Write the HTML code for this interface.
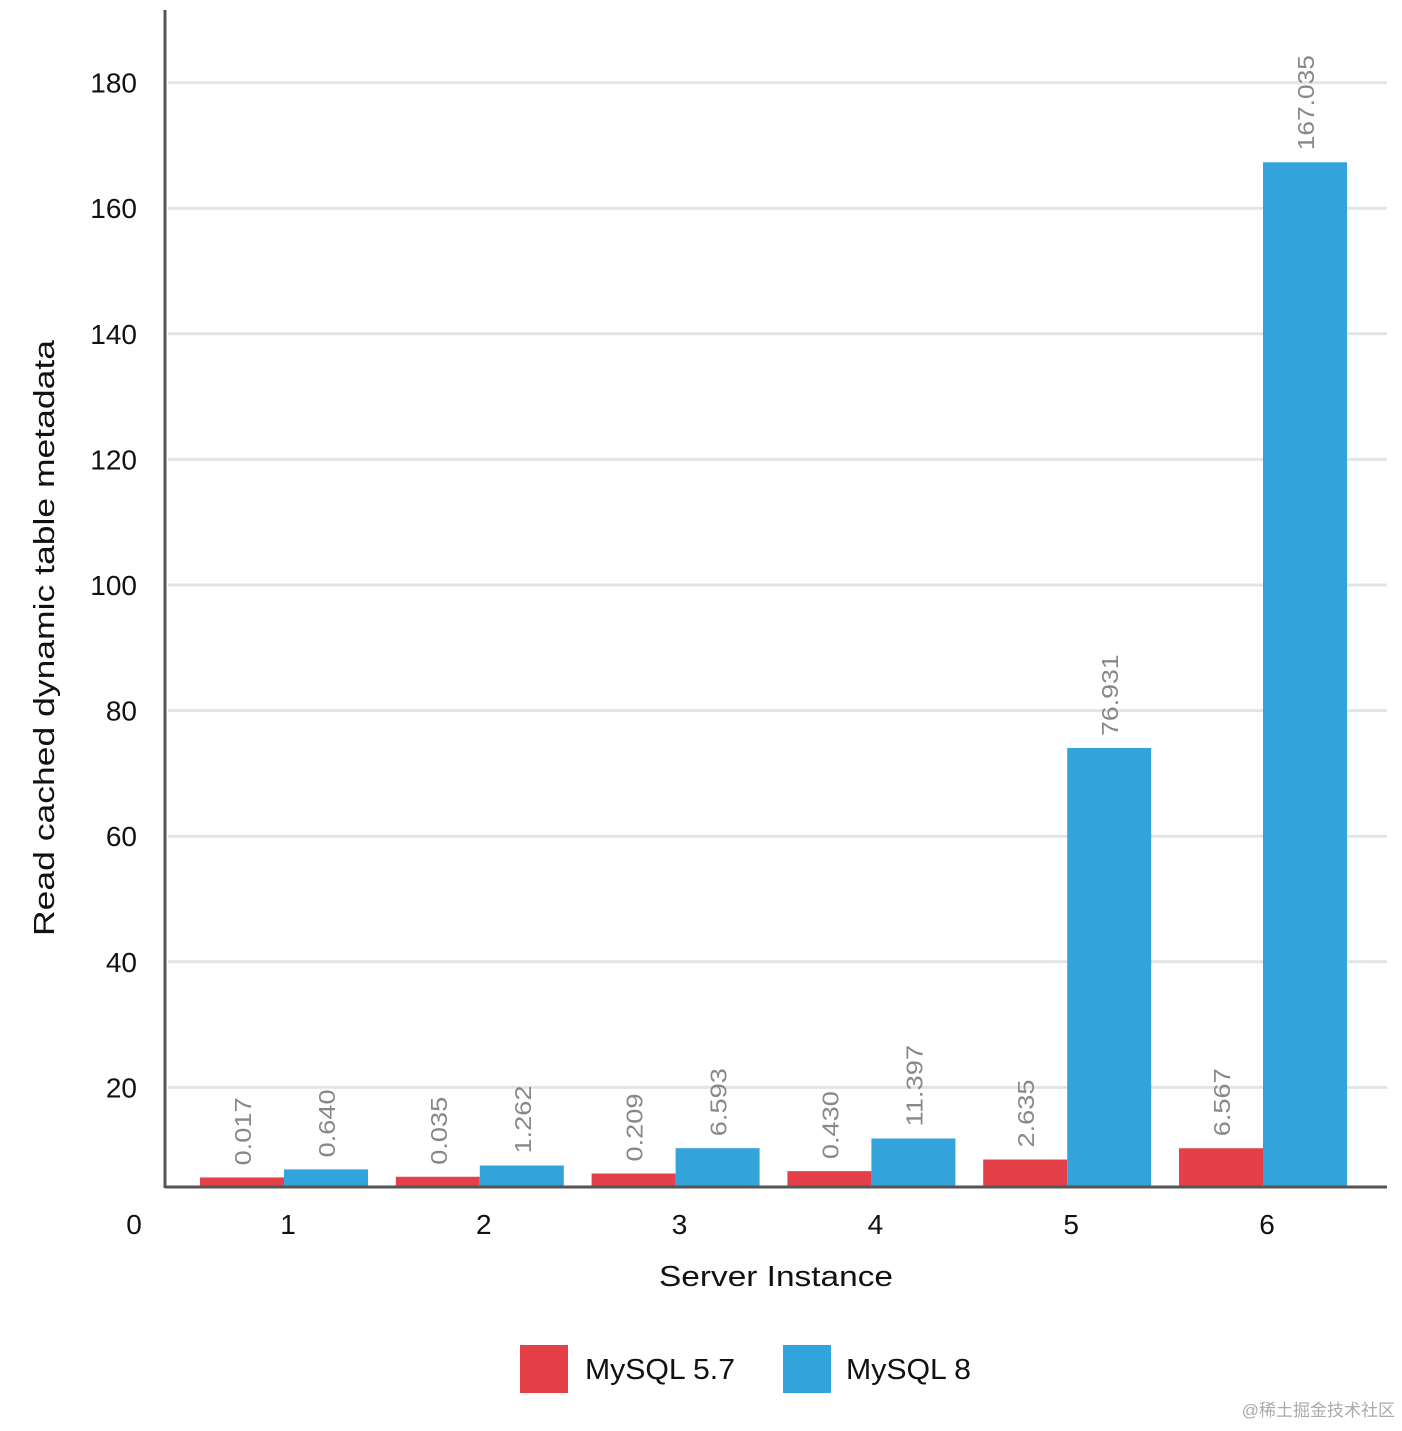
<!DOCTYPE html>
<html><head><meta charset="utf-8"><style>
body{margin:0;background:#fff;}
svg text{font-family:"Liberation Sans","Noto Sans CJK SC",sans-serif;}
</style></head><body>
<svg id="chart" width="1402" height="1426" viewBox="0 0 1402 1426" xmlns="http://www.w3.org/2000/svg">
<g id="grid"></g><g id="bars"></g><g id="labels"></g>
<line x1="165" y1="10" x2="165" y2="1188" stroke="#555" stroke-width="3"/>
<line x1="165" y1="1187" x2="1387" y2="1187" stroke="#555" stroke-width="3"/>
<text x="134" y="1234" font-size="28" fill="#111" text-anchor="middle">0</text>
<text transform="translate(54,638) rotate(-90)" font-size="29" fill="#111" text-anchor="middle" textLength="596" lengthAdjust="spacingAndGlyphs">Read cached dynamic table metadata</text>
<text x="776" y="1286" font-size="29" fill="#111" text-anchor="middle" textLength="234" lengthAdjust="spacingAndGlyphs">Server Instance</text>
<rect x="520" y="1345" width="48" height="48" fill="#e5404a"/>
<text x="585" y="1379" font-size="29" fill="#111" textLength="150" lengthAdjust="spacingAndGlyphs">MySQL 5.7</text>
<rect x="783" y="1345" width="48" height="48" fill="#33a3dc"/>
<text x="846" y="1379" font-size="29" fill="#111" textLength="125" lengthAdjust="spacingAndGlyphs">MySQL 8</text>
<text x="1395" y="1416" font-size="17" fill="#aaa" text-anchor="end">@稀土掘金技术社区</text>
</svg>
<script>
const categories=["1","2","3","4","5","6"];
const mysql57=[0.017,0.035,0.209,0.430,2.635,6.567];
const mysql8=[0.640,1.262,6.593,11.397,76.931,167.035];
const labels57=["0.017","0.035","0.209","0.430","2.635","6.567"];
const labels8=["0.640","1.262","6.593","11.397","76.931","167.035"];
const yTicks=[20,40,60,80,100,120,140,160,180];
const NS="http://www.w3.org/2000/svg";
const y0=1213,pxPer=6.28,axisY=1187;
function yScale(v){return y0-v*pxPer;}
function barHeight(v){return Math.max(6.5*v-61, 8+12*Math.sqrt(v));}
function xCenter(i){return 284+i*195.8;}
function mk(tag,attrs,parent){const e=document.createElementNS(NS,tag);for(const k in attrs)e.setAttribute(k,attrs[k]);document.getElementById(parent).appendChild(e);return e;}
yTicks.forEach(t=>{
  const l=mk('line',{x1:168,x2:1387,y1:yScale(t),y2:yScale(t),stroke:'#e4e4e4','stroke-width':3},'grid');
  
  
  const tx=mk('text',{x:137,y:yScale(t)+10,'font-size':28,fill:'#111','text-anchor':'end'},'grid');
  tx.textContent=t;
  
  
});
function bar(x,v,color,lab,name){
  const top=axisY-barHeight(v);
  const r=mk('rect',{x:x,y:top,width:84,height:axisY-top,fill:color},'bars');
  
  
  const t=mk('text',{transform:`translate(${x+51},${top-12}) rotate(-90)`,'font-size':23,fill:'#888',textLength:lab.length*13.6,lengthAdjust:'spacingAndGlyphs'},'labels');
  t.textContent=lab;
  
  
}
categories.forEach((c,i)=>{
  const cx=xCenter(i);
  bar(cx-84,mysql57[i],'#e5404a',labels57[i],'bar-mysql57-'+c);
  bar(cx,mysql8[i],'#33a3dc',labels8[i],'bar-mysql8-'+c);
  const t=mk('text',{x:cx+4,y:1234,'font-size':28,fill:'#111','text-anchor':'middle'},'labels');
  t.textContent=c;
  
  
});
</script>
</body></html>
